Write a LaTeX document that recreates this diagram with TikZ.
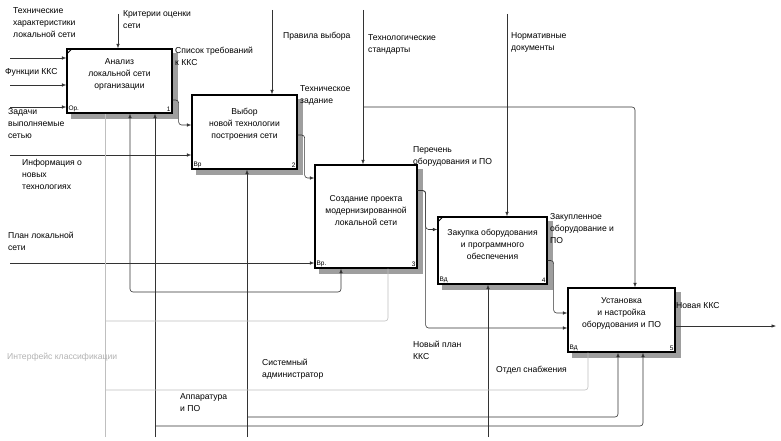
\documentclass[tikz,border=0pt]{standalone}
\usepackage{fontspec}
\setmainfont{Liberation Sans}
\usetikzlibrary{arrows.meta,calc,backgrounds}

\begin{document}
\begin{tikzpicture}[x=1pt,y=-1pt,font=\fontsize{8.6}{12}\selectfont]
  \tikzstyle{Func}=[draw,line width=1.3pt,fill=white,inner sep=0pt]
  \tikzstyle{Arc}=[draw=black!80,line width=0.6pt,rounded corners=3pt,-{Latex[length=4.5pt,width=3.5pt]}]
  \tikzstyle{Tun}=[draw=black!25,line width=0.6pt,rounded corners=3pt]
  \tikzstyle{Lbl}=[inner sep=0pt,align=left,anchor=north west]
  \tikzstyle{Num}=[inner sep=2pt,font=\fontsize{6.5}{7}\selectfont]
  \useasboundingbox (0,0) rectangle (781,441);

  % function boxes
  \node[Func,minimum width=105,minimum height=64,
    label={[Num,anchor=south west]south west:Ор.},label={[Num,anchor=south east]south east:1}] (A1) at (119.5,81) {};
  \node[Func,minimum width=105,minimum height=74,
    label={[Num,anchor=south west]south west:Вр},label={[Num,anchor=south east]south east:2}] (A2) at (244.5,132) {};
  \node[Func,minimum width=102,minimum height=103,
    label={[Num,anchor=south west]south west:Вр.},label={[Num,anchor=south east]south east:3}] (A3) at (366,216.5) {};
  \node[Func,minimum width=109,minimum height=67,
    label={[Num,anchor=south west]south west:Вд},label={[Num,anchor=south east]south east:4}] (A4) at (492.5,250.5) {};
  \node[Func,minimum width=107,minimum height=64,
    label={[Num,anchor=south west]south west:Вд},label={[Num,anchor=south east]south east:5}] (A5) at (621.5,320) {};
  \begin{scope}[on background layer]
    \foreach \b in {A1,A2,A3,A4,A5}
      \fill[black!38] ($(\b.south west)+(5,5)$) rectangle ($(\b.north east)+(5,5)$);
  \end{scope}
  \node[align=center] (T1) at ($(A1)+(0,-7)$) {Анализ\\локальной сети\\организации};
  \node[align=center] (T2) at ($(A2)+(0,-8)$) {Выбор\\новой технологии\\построения сети};
  \node[align=center] (T3) at ($(A3)+(0,-6)$) {Создание проекта\\модернизированной\\локальной сети};
  \node[align=center] (T4) at ($(A4)+(0,-6)$) {Закупка оборудования\\и программного\\обеспечения};
  \node[align=center] (T5) at ($(A5)+(0,-7)$) {Установка\\и настройка\\оборудования и ПО};
  \draw[line width=0.8pt] ($(A1.north west)+(0,6)$) -- ++(6,-6);
  \draw[line width=0.8pt] ($(A4.north west)+(0,6)$) -- ++(6,-6);

  % inputs
  \coordinate (I1) at (10,58);
  \coordinate (I2) at (10,85);
  \coordinate (I3) at (10,107);
  \coordinate (I4) at (10,155);
  \coordinate (I5) at (10,263);
  \draw[Arc] (I1) -- (I1 -| A1.west);
  \draw[Arc] (I2) -- (I2 -| A1.west);
  \draw[Arc] (I3) -- (I3 -| A1.west);
  \draw[Arc] (I4) -- (I4 -| A2.west);
  \draw[Arc] (I5) -- (I5 -| A3.west);

  % controls
  \coordinate (C1) at (118,14);
  \coordinate (C2) at (272,10);
  \coordinate (C3) at (363,10);
  \coordinate (C4) at (507,14);
  \coordinate (C5) at (635,107);
  \draw[Arc] (C1) -- (C1 |- A1.north);
  \draw[Arc] (C2) -- (C2 |- A2.north);
  \draw[Arc] (C3) -- (C3 |- A3.north);
  \draw[Arc] (C4) -- (C4 |- A4.north);
  \draw[Arc] (C3 |- C5) -- (C5) -- (C5 |- A5.north);

  % outputs
  \draw[Arc] ($(A1.east)+(0,19)$) -- ++(6,0) |- ($(A2.west)+(0,-7)$);
  \draw[Arc] ($(A2.east)+(0,3)$) -- ++(7,0) |- ($(A3.west)+(0,-38.5)$);
  \draw[Arc] ($(A3.east)+(0,-26)$) -- ++(8,0) |- ($(A4.west)+(0,-21)$);
  \draw[Arc] ($(A3.east)+(0,-26)$) -- ++(8,0) |- ($(A5.west)+(0,8)$);
  \draw[Arc] ($(A4.east)+(0,10)$) -- ++(6,0) |- ($(A5.west)+(0,-7)$);
  \coordinate (O5) at (776,326);
  \draw[Arc] (O5 -| A5.east) -- (O5);

  % mechanisms
  \coordinate (M1) at (155,437);
  \coordinate (M2) at (247,437);
  \coordinate (M4) at (488,437);
  \coordinate (B1) at (130,292);
  \coordinate (B3) at (341,292);
  \coordinate (B5) at (618,417);
  \coordinate (B6) at (643,426);
  \draw[Arc] (M1) -- (M1 |- A1.south);
  \draw[Arc] (M2) -- (M2 |- A2.south);
  \draw[Arc] (M4) -- (M4 |- A4.south);
  \draw[Arc] (M2 |- B1) -- (B1) -- (B1 |- A1.south);
  \draw[Arc] (M2 |- B3) -- (B3) -- (B3 |- A3.south);
  \draw[Arc] (M2 |- B5) -- (B5) -- (B5 |- A5.south);
  \draw[Arc] (M1 |- B6) -- (B6) -- (B6 |- A5.south);

  % tunnelled arrows
  \coordinate (G0) at (105,437);
  \coordinate (G1) at (388,321);
  \coordinate (G2) at (588,390);
  \draw[Tun] (G0) -- (G0 |- A1.south);
  \draw[Tun] (G0 |- G1) -- (G1) -- (G1 |- A3.south);
  \draw[Tun] (G0 |- G2) -- (G2) -- (G2 |- A5.south);

  % arrow labels
  \node[Lbl] (L1) at (13,7) {Технические\\характеристики\\локальной сети};
  \node[Lbl] (L2) at (123,10) {Критерии оценки\\сети};
  \node[Lbl,anchor=west] (L3) at (5,72) {Функции ККС};
  \node[Lbl] (L4) at (8,108) {Задачи\\выполняемые\\сетью};
  \node[Lbl] (L5) at (22,159) {Информация о\\новых\\технологиях};
  \node[Lbl] (L6) at (8,232) {План локальной\\сети};
  \node[Lbl] (L7) at (175,47) {Список требований\\к ККС};
  \node[Lbl,anchor=west] (L8) at (283,36) {Правила выбора};
  \node[Lbl] (L9) at (368,34) {Технологические\\стандарты};
  \node[Lbl] (L10) at (511,32) {Нормативные\\документы};
  \node[Lbl] (L11) at (300,85) {Техническое\\задание};
  \node[Lbl] (L12) at (413,146) {Перечень\\оборудования и ПО};
  \node[Lbl] (L13) at (550,213) {Закупленное\\оборудование и\\ПО};
  \node[Lbl,anchor=west] (L14) at (676,306) {Новая ККС};
  \node[Lbl] (L15) at (413,341) {Новый план\\ККС};
  \node[Lbl] (L16) at (262,359) {Системный\\администратор};
  \node[Lbl,anchor=west] (L17) at (496,370) {Отдел снабжения};
  \node[Lbl] (L18) at (180,393) {Аппаратура\\и ПО};
  \node[Lbl,anchor=west,text=black!30] (L19) at (7,357) {Интерфейс классификации};
\end{tikzpicture}
\end{document}
